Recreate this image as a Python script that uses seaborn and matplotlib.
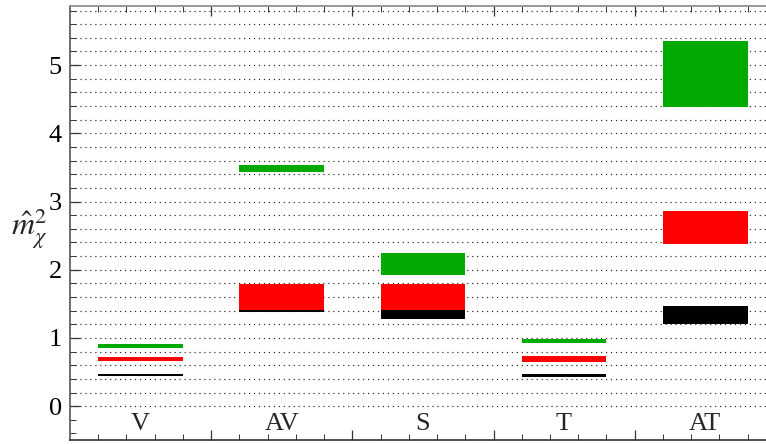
import matplotlib
matplotlib.use("Agg")
import matplotlib.pyplot as plt
import seaborn as sns
import numpy as np

categories = ["V", "AV", "S", "T", "AT"]

green_lo = [0.85, 3.44, 1.93, 0.92, 4.39]
green_hi = [0.91, 3.54, 2.25, 0.99, 5.35]
red_lo = [0.66, 1.41, 1.41, 0.65, 2.38]
red_hi = [0.72, 1.79, 1.79, 0.73, 2.86]
black_lo = [0.44, 1.375, 1.28, 0.43, 1.21]
black_hi = [0.47, 1.41, 1.41, 0.47, 1.47]

sns.set_style("white")
plt.rcParams["font.family"] = ["Liberation Serif", "DejaVu Serif"]
plt.rcParams["mathtext.fontset"] = "stix"

fig = plt.figure(figsize=(7.66, 4.44), dpi=100)
ax = fig.add_axes([0.0914, 0.0083, 0.9086, 0.9787])

# dotted horizontal grid
for yv in np.arange(0, 5.81, 0.2):
    ax.axhline(yv, color="#222222", lw=0.85, ls=(0, (1, 3.2)), zorder=0)

series = [(black_lo, black_hi, "black"),
          (red_lo, red_hi, "#ff0000"),
          (green_lo, green_hi, "#00aa00")]
for lo, hi, col in series:
    h = [b - a for a, b in zip(lo, hi)]
    sns.barplot(x=categories, y=h, bottom=lo, order=categories, color=col,
                width=0.6, linewidth=0, saturation=1, ax=ax, zorder=2)

for i, c in enumerate(categories):
    ax.text(i, -0.26, c, ha="center", va="center", fontsize=19)

ax.set_xlim(-0.5, 4.43)
ax.set_ylim(-0.50, 5.87)
ax.set_xticks([0.5, 1.5, 2.5, 3.5])
ax.set_xticks(np.arange(-0.3, 4.4, 0.2), minor=True)
ax.set_xticklabels([])
ax.set_yticks(range(6))
ax.set_yticks(np.arange(-0.4, 5.81, 0.2), minor=True)
ax.set_yticklabels([str(v) for v in range(6)], fontsize=19)

ax.tick_params(axis="x", which="both", direction="in", top=True, bottom=True,
               colors="#333333")
ax.tick_params(axis="x", which="major", length=7, width=0.9)
ax.tick_params(axis="x", which="minor", length=4, width=0.7)
ax.tick_params(axis="y", which="both", direction="in", left=True, right=False,
               colors="#333333", labelcolor="black")
ax.tick_params(axis="y", which="major", length=7, width=0.9, pad=6)
ax.tick_params(axis="y", which="minor", length=4, width=0.7)

ax.spines["right"].set_visible(False)
ax.spines["top"].set_color("#888888")
ax.spines["left"].set_color("#555555")
ax.spines["bottom"].set_color("#333333")
for s in ["top", "left", "bottom"]:
    ax.spines[s].set_linewidth(1.2)

ax.set_xlabel("")
ax.set_ylabel(r"$\hat{m}_{\chi}^{2}$", rotation=0, fontsize=23)
ax.yaxis.set_label_coords(-0.058, 0.435)

fig.savefig("out.png", dpi=100)
